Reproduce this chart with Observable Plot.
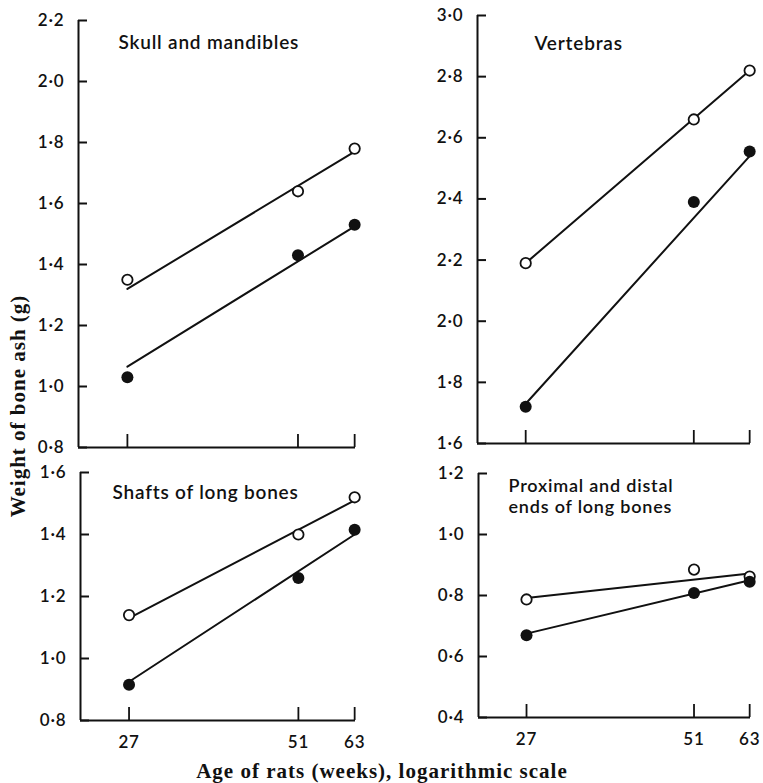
<!DOCTYPE html>
<html><head><meta charset="utf-8">
<script src="https://cdn.jsdelivr.net/npm/d3@7"></script>
<script src="https://cdn.jsdelivr.net/npm/@observablehq/plot@0.6"></script>
<style>
body{margin:0;background:#fff;}
#wrap{position:relative;width:763px;height:783px;overflow:hidden;}
#wrap svg{position:absolute;overflow:visible;}
.ttl{position:absolute;font-family:"Liberation Serif","Times New Roman",serif;font-weight:bold;font-size:21px;line-height:21px;letter-spacing:1px;color:#111;white-space:nowrap;}
</style></head><body><div id="wrap"></div>
<script>
// ---- data ----
const ages = [27, 51, 63];
const fitAges = [27, 63];

const skullOpen = [1.35, 1.64, 1.78];
const skullFilled = [1.03, 1.43, 1.53];
const skullOpenFit = [1.32, 1.77];
const skullFilledFit = [1.065, 1.525];
const skullTicks = [0.8, 1.0, 1.2, 1.4, 1.6, 1.8, 2.0, 2.2];

const vertOpen = [2.19, 2.66, 2.82];
const vertFilled = [1.72, 2.39, 2.555];
const vertOpenFit = [2.19, 2.82];
const vertFilledFit = [1.73, 2.54];
const vertTicks = [1.6, 1.8, 2.0, 2.2, 2.4, 2.6, 2.8, 3.0];

const shaftOpen = [1.14, 1.40, 1.52];
const shaftFilled = [0.915, 1.26, 1.415];
const shaftOpenFit = [1.13, 1.51];
const shaftFilledFit = [0.925, 1.40];
const shaftTicks = [0.8, 1.0, 1.2, 1.4, 1.6];

const endsOpen = [0.787, 0.885, 0.862];
const endsFilled = [0.67, 0.808, 0.845];
const endsOpenFit = [0.792, 0.872];
const endsFilledFit = [0.675, 0.85];
const endsTicks = [0.4, 0.6, 0.8, 1.0, 1.2];

const titles = ["Skull and mandibles", "Vertebras", "Shafts of long bones", "Proximal and distal\nends of long bones"];
const xTitle = "Age of rats (weeks), logarithmic scale";
const yTitle = "Weight of bone ash (g)";

// ---- drawing ----
const ink = "#111";
const xDomain = [22.5, 63.2];
const fmt = d => d3.format(".1f")(d).replace(".", "\u00b7");
const wrap = document.getElementById("wrap");

function panel(o) {
  const rows = (vals, xs) => xs.map((a, i) => ({age: a, w: vals[i]}));
  const p = Plot.plot({
    width: o.w, height: o.h,
    marginLeft: o.ml, marginTop: o.mt, marginRight: o.mr, marginBottom: o.mb,
    style: {fontFamily: "Lato, sans-serif", fontWeight: 600, color: ink, background: "transparent", overflow: "visible", letterSpacing: "0.8px"},
    x: {type: "log", domain: xDomain},
    y: {domain: [o.ticks[0], o.ticks[o.ticks.length - 1]]},
    marks: [
      Plot.ruleY([o.ticks[0]], {stroke: ink, strokeWidth: 2}),
      Plot.ruleX([xDomain[0]], {stroke: ink, strokeWidth: 2}),
      Plot.axisY({ticks: o.ticks, tickSize: -9, tickPadding: 23, tickFormat: fmt, fontSize: 17, strokeWidth: 2, label: null}),
      Plot.axisX({ticks: ages, tickSize: -13, tickPadding: 28, tickFormat: o.showX ? (d => String(d)) : (() => ""), fontSize: 17, strokeWidth: 1.8, label: null}),
      Plot.text([o.title], {text: d => d, frameAnchor: "top-left", dx: o.tdx, dy: o.tdy, textAnchor: "start", lineAnchor: "top", fontSize: o.tfs, lineHeight: 1.2, fill: ink}),
      Plot.line(rows(o.openFit, fitAges), {x: "age", y: "w", stroke: ink, strokeWidth: 2}),
      Plot.line(rows(o.filledFit, fitAges), {x: "age", y: "w", stroke: ink, strokeWidth: 2}),
      Plot.dot(rows(o.open, ages), {x: "age", y: "w", r: 5.2, fill: "white", stroke: ink, strokeWidth: 1.8}),
      Plot.dot(rows(o.filled, ages), {x: "age", y: "w", r: 6, fill: ink, stroke: "none"})
    ]
  });
  p.style.left = o.left + "px";
  p.style.top = o.top + "px";
  wrap.appendChild(p);
}

panel({left: 0, top: 0, w: 380, h: 460, ml: 78, mt: 20, mr: 25, mb: 13,
  ticks: skullTicks, open: skullOpen, filled: skullFilled, openFit: skullOpenFit, filledFit: skullFilledFit,
  title: titles[0], tdx: 40, tdy: 12, tfs: 19, showX: false});
panel({left: 380, top: 0, w: 383, h: 460, ml: 97, mt: 15, mr: 13, mb: 17,
  ticks: vertTicks, open: vertOpen, filled: vertFilled, openFit: vertOpenFit, filledFit: vertFilledFit,
  title: titles[1], tdx: 57, tdy: 18, tfs: 19, showX: false});
panel({left: 0, top: 460, w: 380, h: 300, ml: 80, mt: 12, mr: 25, mb: 40,
  ticks: shaftTicks, open: shaftOpen, filled: shaftFilled, openFit: shaftOpenFit, filledFit: shaftFilledFit,
  title: titles[2], tdx: 32, tdy: 10, tfs: 19, showX: true});
panel({left: 380, top: 460, w: 383, h: 300, ml: 98, mt: 13, mr: 13, mb: 43,
  ticks: endsTicks, open: endsOpen, filled: endsFilled, openFit: endsOpenFit, filledFit: endsFilledFit,
  title: titles[3], tdx: 30, tdy: 3, tfs: 18, showX: true});

const xt = document.createElement("div");
xt.className = "ttl";
xt.textContent = xTitle;
Object.assign(xt.style, {left: "0px", width: "764px", textAlign: "center", top: "761px"});
wrap.appendChild(xt);

const yt = document.createElement("div");
yt.className = "ttl";
yt.textContent = yTitle;
Object.assign(yt.style, {left: "18px", top: "406px", transform: "translate(-50%,-50%) rotate(-90deg)"});
wrap.appendChild(yt);
</script>
</body></html>
